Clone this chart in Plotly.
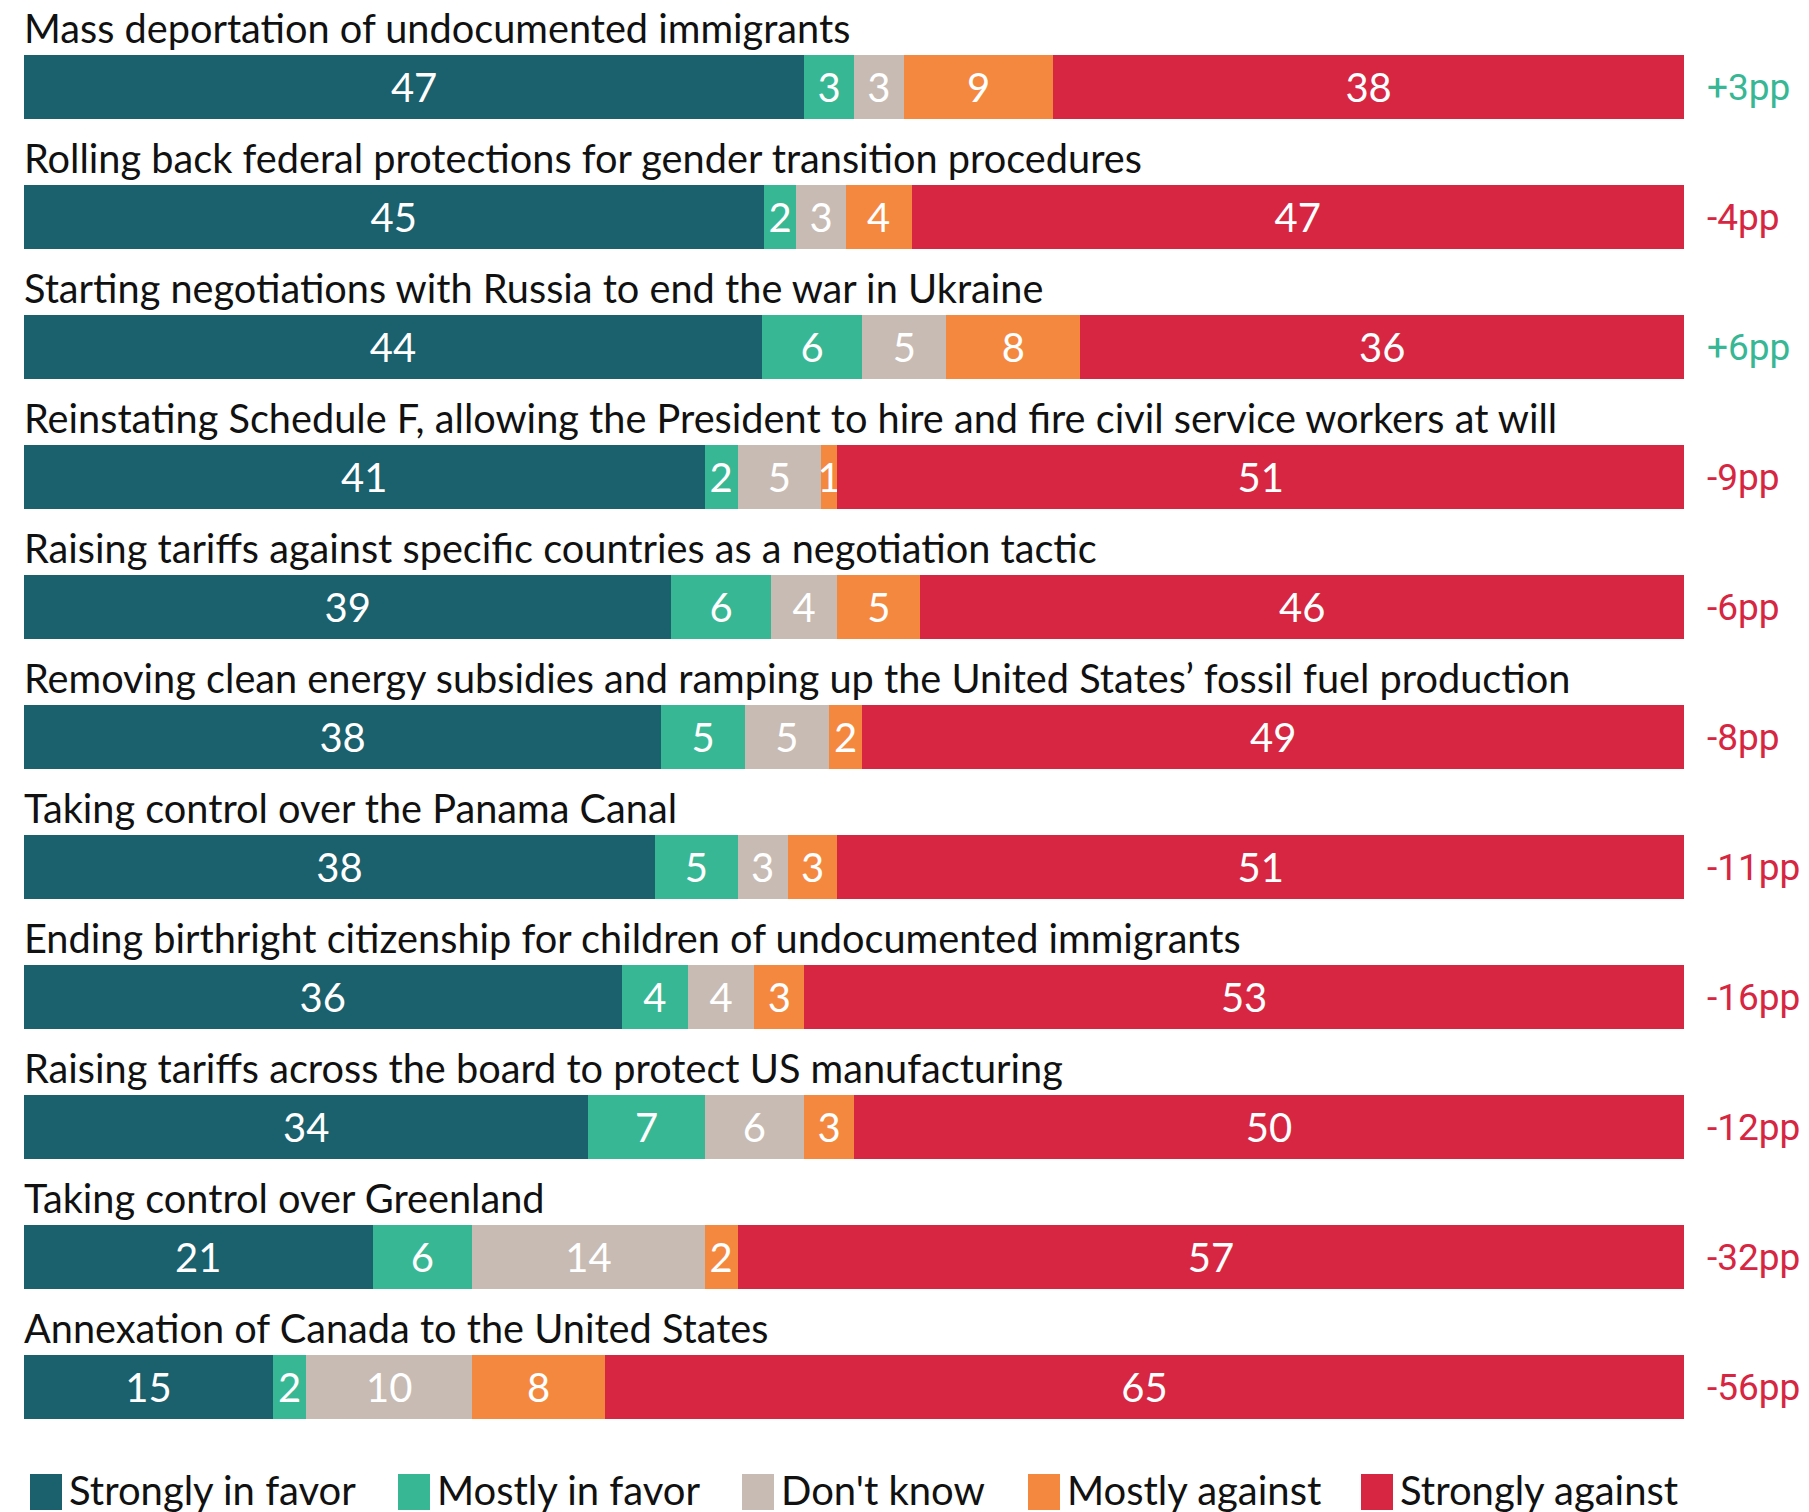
import plotly.graph_objects as go

categories = [
    "Mass deportation of undocumented immigrants",
    "Rolling back federal protections for gender transition procedures",
    "Starting negotiations with Russia to end the war in Ukraine",
    "Reinstating Schedule F, allowing the President to hire and fire civil service workers at will",
    "Raising tariffs against specific countries as a negotiation tactic",
    "Removing clean energy subsidies and ramping up the United States\u2019 fossil fuel production",
    "Taking control over the Panama Canal",
    "Ending birthright citizenship for children of undocumented immigrants",
    "Raising tariffs across the board to protect US manufacturing",
    "Taking control over Greenland",
    "Annexation of Canada to the United States",
]
strongly_favor = [47, 45, 44, 41, 39, 38, 38, 36, 34, 21, 15]
mostly_favor = [3, 2, 6, 2, 6, 5, 5, 4, 7, 6, 2]
dont_know = [3, 3, 5, 5, 4, 5, 3, 4, 6, 14, 10]
mostly_against = [9, 4, 8, 1, 5, 2, 3, 3, 3, 2, 8]
strongly_against = [38, 47, 36, 51, 46, 49, 51, 53, 50, 57, 65]
net_labels = ["+3pp", "-4pp", "+6pp", "-9pp", "-6pp", "-8pp", "-11pp", "-16pp", "-12pp", "-32pp", "-56pp"]

series_names = ["Strongly in favor", "Mostly in favor", "Don't know", "Mostly against", "Strongly against"]
series_values = [strongly_favor, mostly_favor, dont_know, mostly_against, strongly_against]
colors = ["#1b606d", "#37b794", "#c7bbb3", "#f5883f", "#d72641"]
POS_COLOR = "#37b794"
NEG_COLOR = "#d72641"

FONT = "Lato"
W, H = 1809, 1512
OFF = 8  # page body margin
ML, MR, MT, MB = 16, 133, 14, 68

fig = go.Figure()
for name, vals, col in zip(series_names, series_values, colors):
    fig.add_trace(go.Bar(
        y=categories, x=vals, name=name, orientation="h",
        marker=dict(color=col, line=dict(width=0)),
        text=[str(v) for v in vals], texttemplate="%{text}",
        textposition="inside", insidetextanchor="middle",
        textfont=dict(family=FONT, size=40, color="white"),
        width=0.49, showlegend=False, hoverinfo="skip",
    ))

annotations = []
for cat, lab in zip(categories, net_labels):
    annotations.append(dict(
        x=0, y=cat, xref="x", yref="y", text=cat, showarrow=False,
        xanchor="left", yanchor="middle", yshift=60, xshift=-2,
        font=dict(family=FONT, size=39.7, color="#111111"),
    ))
    annotations.append(dict(
        x=100, y=cat, xref="x", yref="y", text=lab, showarrow=False,
        xanchor="left", yanchor="middle", xshift=21,
        font=dict(family="Roboto", size=37, color=POS_COLOR if lab.startswith("+") else NEG_COLOR),
    ))

# manual legend (viewport pixel positions converted to paper coordinates)
pw, ph = W - ML - MR, H - MT - MB
legend_sq_x = [30, 398, 742, 1028, 1361]
shapes = []
def px_to_paper_x(x):
    return (x - OFF - ML) / pw
def px_to_paper_y(y):
    return (H - MB - (y - OFF)) / ph
for i, (name, col) in enumerate(zip(series_names, colors)):
    x0 = legend_sq_x[i]
    y0, y1 = 1474, 1510
    shapes.append(dict(
        type="rect", xref="paper", yref="paper",
        x0=px_to_paper_x(x0), x1=px_to_paper_x(x0 + 32),
        y0=px_to_paper_y(y1), y1=px_to_paper_y(y0),
        fillcolor=col, line=dict(width=0),
    ))
    annotations.append(dict(
        x=px_to_paper_x(x0 + 37), y=px_to_paper_y(1490), xref="paper", yref="paper",
        text=name, showarrow=False, xanchor="left", yanchor="middle",
        font=dict(family=FONT, size=40, color="#111111"),
    ))

fig.update_layout(
    barmode="stack", barnorm="percent",
    width=W, height=H,
    margin=dict(l=ML, r=MR, t=MT, b=MB),
    paper_bgcolor="white", plot_bgcolor="white",
    xaxis=dict(range=[0, 100], visible=False, fixedrange=True),
    yaxis=dict(range=[10.5, -0.5], autorange=False, visible=False,
               categoryorder="array", categoryarray=categories),
    uniformtext=dict(minsize=40, mode="show"),
    annotations=annotations, shapes=shapes,
)

fig.write_html("out.html")
